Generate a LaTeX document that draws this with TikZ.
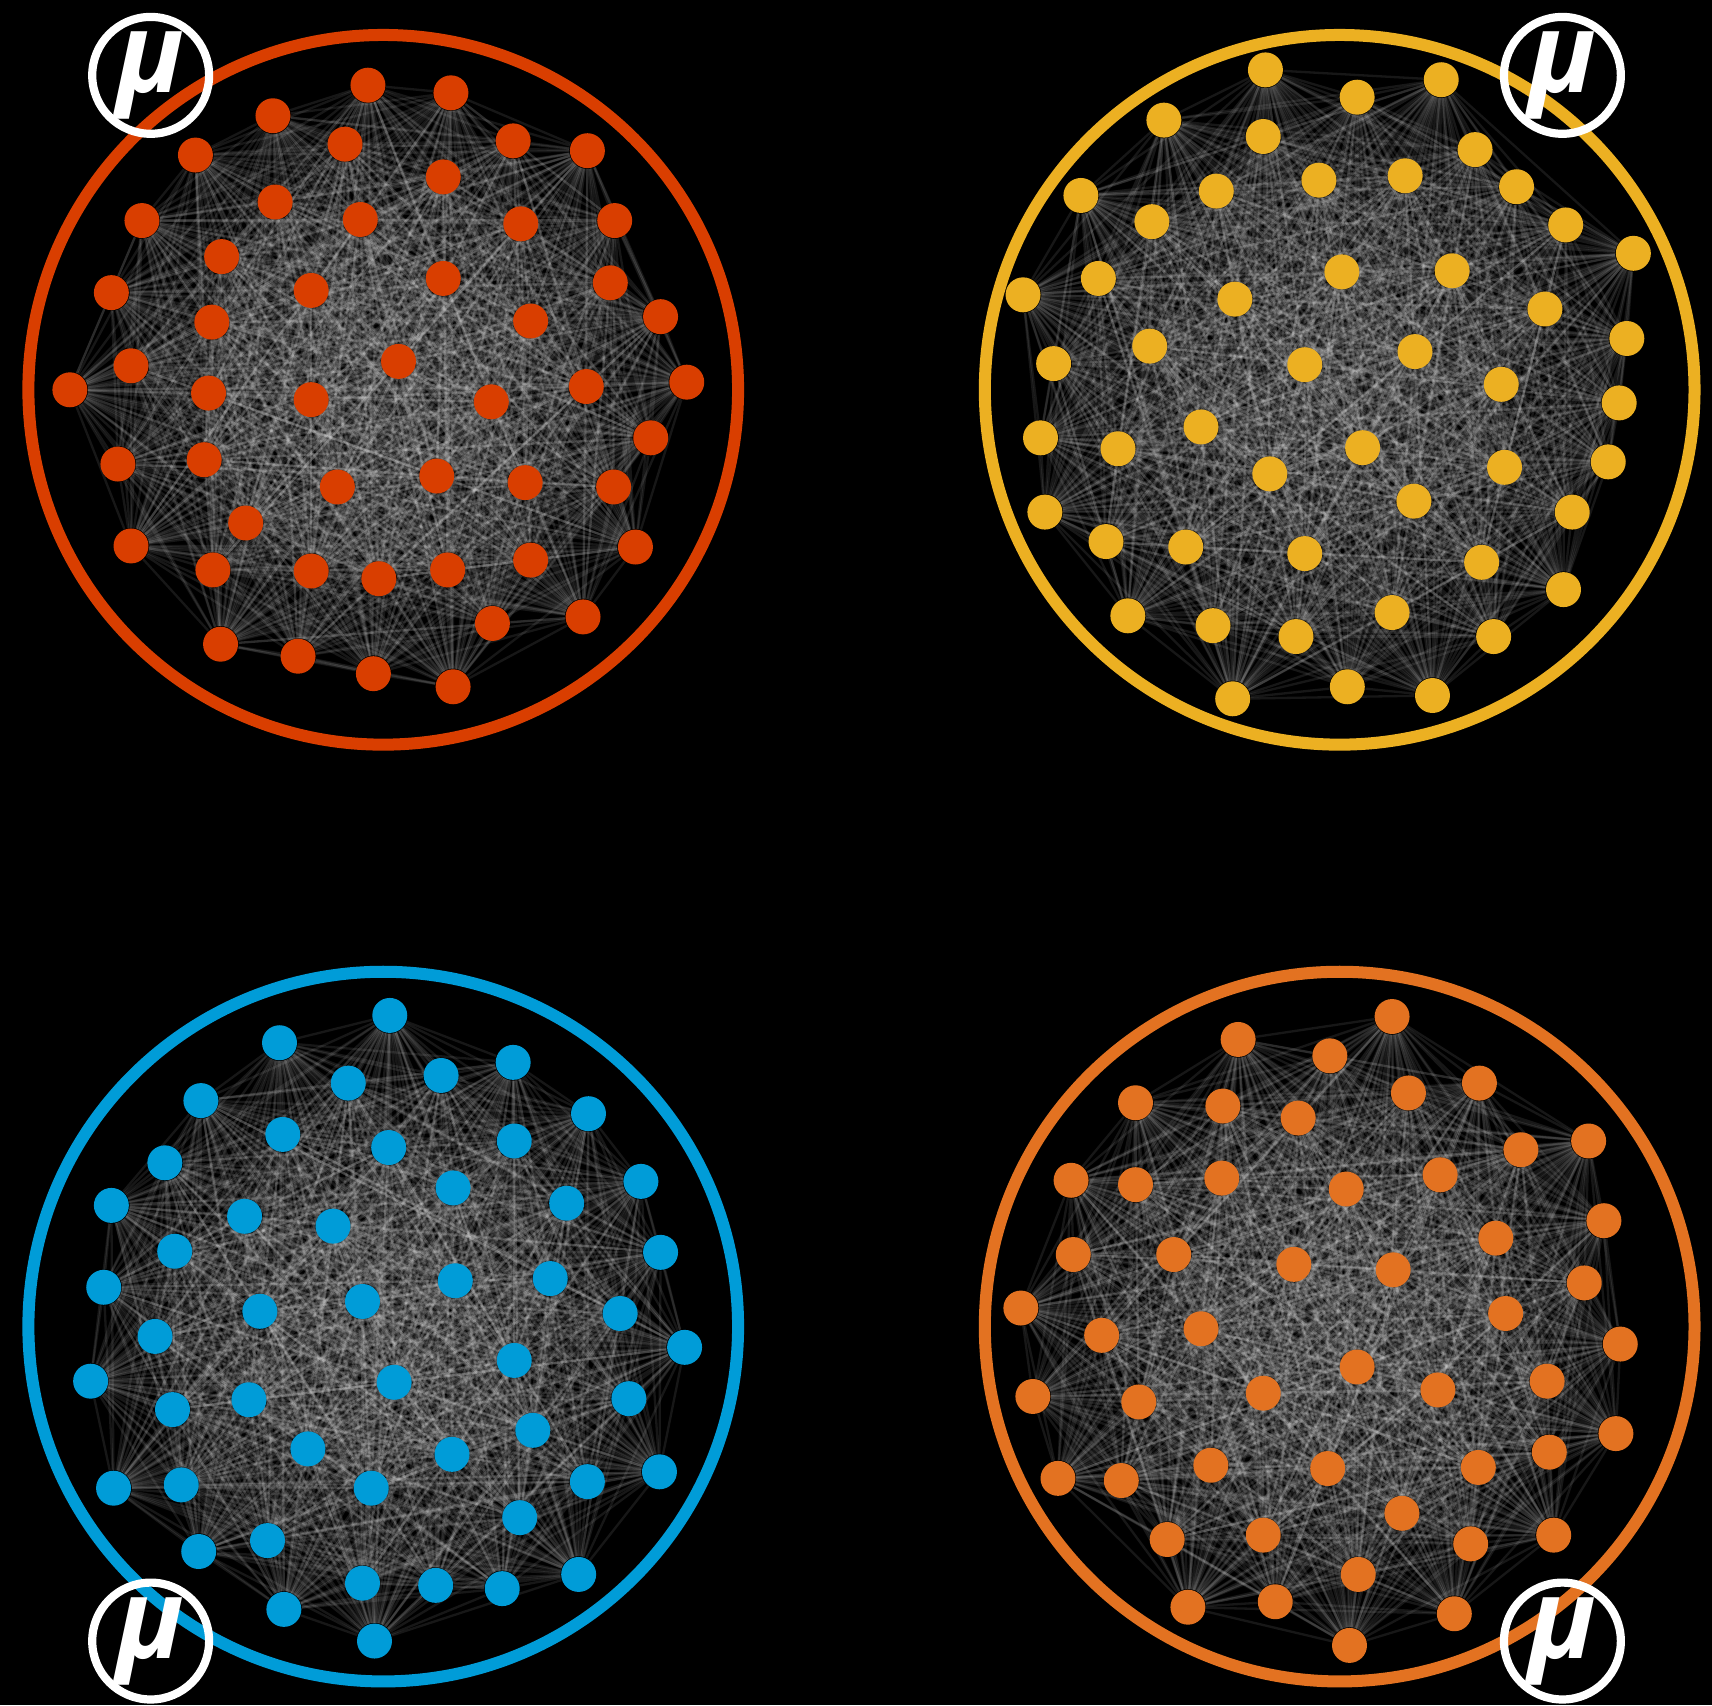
\documentclass[tikz,border=0pt]{standalone}
\usepackage{fontspec}
\usepackage{xcolor}
\usepackage{tikz}
\usetikzlibrary{backgrounds}
\newfontfamily\mufont{Open Sans}

\definecolor{MauDo}{RGB}{217,62,0}
\definecolor{MauVang}{RGB}{236,176,34}
\definecolor{MauXanh}{RGB}{0,156,216}
\definecolor{MauCam}{RGB}{227,114,33}

\pgfdeclarelayer{nen}
\pgfdeclarelayer{canh}
\pgfsetlayers{nen,canh,main}

\begin{document}
\begin{tikzpicture}[x=0.01cm, y=-0.01cm,
    diem/.style={circle, fill=#1, draw=none, inner sep=0pt, minimum size=0.32cm},
    canhnoi/.style={white, opacity=0.09, line width=0.6pt},
    vongtron/.style={draw=#1, line width=0.11cm},
    nhanmu/.style={circle, draw=white, line width=0.075cm, minimum size=1.07cm, inner sep=0pt,
        text=white, font=\mufont\bfseries\itshape\fontsize{29}{29}\selectfont}]

    % =================================================================
    % 1. NEN DEN VA KHUNG HINH
    % =================================================================
    \begin{pgfonlayer}{nen}
        \fill[black] (0,0) rectangle (1568,1562);
    \end{pgfonlayer}
    \useasboundingbox (0,0) rectangle (1568,1562);

    % =================================================================
    % 2. BON VONG TRON LON
    % =================================================================
    \draw[vongtron=MauDo] (351,357) circle (325);
    \draw[vongtron=MauVang] (1227,357) circle (325);
    \draw[vongtron=MauXanh] (351,1215) circle (325);
    \draw[vongtron=MauCam] (1227,1215) circle (325);

    % =================================================================
    % 3. CAC DINH CUA MANG (DO, VANG, XANH, CAM)
    % =================================================================
    \foreach \p [count=\n] in {(337,78),(413,85),(250,106),(316,132),(470,129),
        (538,138),(179,142),(406,162),(252,185),(330,201),(130,202),(477,205),
        (563,202),(203,235),(406,255),(559,259),(102,268),(285,266),(605,290),
        (194,295),(486,294),(120,335),(365,331),(64,357),(191,360),(285,366),
        (450,368),(537,354),(629,350),(596,401),(108,425),(187,421),(400,436),
        (309,446),(481,442),(562,446),(225,479),(120,500),(582,501),(195,522),
        (285,523),(347,530),(410,522),(486,513),(534,565),(451,571),(202,590),
        (273,601),(342,617),(415,629)}
        \node[diem=MauDo] (r\n) at \p {};

    \foreach \p [count=\n] in {(1159,64),(1320,73),(1243,89),(1066,110),(1157,125),
        (1351,137),(1208,165),(1287,161),(1389,171),(1114,175),(990,179),
        (1055,203),(1434,206),(1496,232),(1229,249),(1330,248),(1006,255),
        (1131,274),(937,270),(1415,283),(1490,310),(1053,317),(1296,322),
        (1195,334),(965,333),(1375,352),(1483,369),(1100,391),(953,401),
        (1024,411),(1248,410),(1378,428),(1473,423),(1163,434),(1295,459),
        (957,469),(1440,469),(1013,496),(1086,501),(1195,507),(1357,515),
        (1432,540),(1033,564),(1111,573),(1275,561),(1187,583),(1368,583),
        (1234,629),(1129,640),(1312,637)}
        \node[diem=MauVang] (y\n) at \p {};

    \foreach \p [count=\n] in {(357,930),(256,955),(470,973),(404,985),(319,992),
        (184,1008),(539,1020),(259,1039),(356,1051),(471,1045),(151,1065),
        (587,1082),(415,1088),(102,1104),(519,1102),(224,1114),(305,1123),
        (160,1146),(605,1147),(95,1179),(417,1173),(504,1171),(238,1201),
        (332,1192),(568,1203),(142,1224),(627,1234),(471,1246),(83,1265),
        (361,1266),(228,1282),(576,1281),(158,1291),(488,1310),(282,1327),
        (414,1332),(604,1348),(104,1363),(166,1360),(340,1363),(538,1357),
        (476,1390),(245,1411),(182,1421),(332,1450),(399,1452),(460,1455),
        (530,1442),(260,1474),(343,1503)}
        \node[diem=MauXanh] (b\n) at \p {};

    \foreach \p [count=\n] in {(1275,931),(1134,952),(1218,967),(1355,992),(1290,1001),
        (1040,1010),(1120,1013),(1189,1024),(1455,1045),(1393,1053),(981,1081),
        (1040,1085),(1119,1079),(1319,1076),(1233,1089),(1469,1118),(1370,1134),
        (983,1149),(1075,1149),(1185,1158),(1276,1163),(1451,1175),(935,1198),
        (1009,1223),(1100,1217),(1379,1203),(1484,1231),(1243,1252),(946,1279),
        (1043,1284),(1157,1276),(1317,1273),(1417,1265),(1480,1313),(1419,1330),
        (1109,1342),(1216,1345),(1354,1344),(969,1354),(1027,1356),(1284,1386),
        (1423,1406),(1069,1410),(1157,1406),(1347,1414),(1244,1442),(1088,1472),
        (1168,1467),(1332,1478),(1236,1507)}
        \node[diem=MauCam] (o\n) at \p {};

    % =================================================================
    % 4. CAC CANH NOI (DO THI DAY DU, NET MO)
    % =================================================================
    \begin{pgfonlayer}{canh}
        \foreach \g in {r,y,b,o}{
            \foreach \i in {1,...,49}{
                \pgfmathtruncatemacro\k{\i+1}
                \foreach \j in {\k,...,50}
                    \draw[canhnoi] (\g\i) -- (\g\j);
            }
        }
    \end{pgfonlayer}

    % =================================================================
    % 5. BIEU TUONG MU O CAC GOC
    % =================================================================
    \node[nhanmu] (muTrenTrai) at (138,69) {μ};
    \node[nhanmu] (muTrenPhai) at (1431,69) {μ};
    \node[nhanmu] (muDuoiTrai) at (138,1503) {μ};
    \node[nhanmu] (muDuoiPhai) at (1431,1503) {μ};

\end{tikzpicture}
\end{document}
